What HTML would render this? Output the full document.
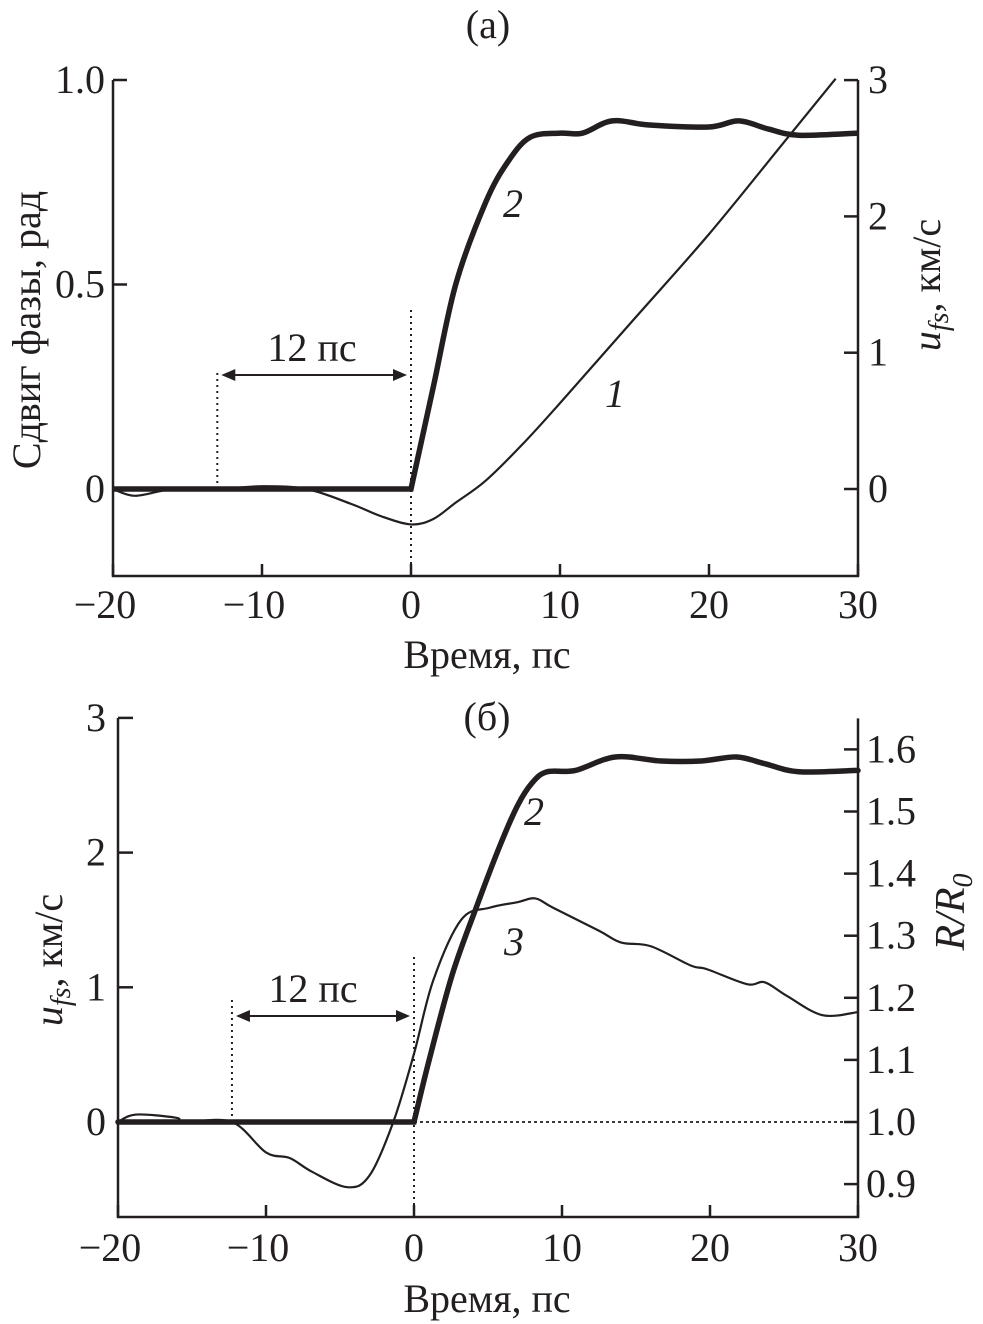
<!DOCTYPE html>
<html><head><meta charset="utf-8"><style>
body{margin:0;background:#fff}
svg{display:block}
text{font-family:"Liberation Serif",serif;fill:#231f20}
</style></head><body>
<svg id="fig" width="983" height="1324" viewBox="0 0 983 1324">
<g id="top"></g>
<g id="bot"></g>
</svg>
<script>
// ---- data ----
const xTicks=[-20,-10,0,10,20,30];
const aLeftTicks=[0,0.5,1.0];
const aLeftLabels=["0","0.5","1.0"];
const aRightTicks=[0,1,2,3];
const c1X=[-20,-18.5,-16,-13,-10,-7,-4,-2,0,1.5,3,5,7.5,10,15,20,25,28.5];
const c1Y=[0,-0.05,0,0,0.02,0,-0.11,-0.2,-0.26,-0.22,-0.1,0.06,0.33,0.63,1.25,1.87,2.54,3.01];
const c2aX=[0,1.5,3,5,6.5,8,10,11.5,13.5,16,20,22,24,26,30];
const c2aY=[0,0.25,0.5,0.7,0.8,0.86,0.87,0.87,0.9,0.89,0.885,0.9,0.88,0.865,0.87];
const bLeftTicks=[0,1,2,3];
const bRightTicks=[0.9,1.0,1.1,1.2,1.3,1.4,1.5,1.6];
const c2bX=[0,1,2.6,4.3,5.8,7,8,9,10.9,13.6,16.7,19.4,21.8,23.7,26,30];
const c2bY=[0,0.45,1.1,1.62,2.05,2.35,2.52,2.6,2.61,2.71,2.68,2.68,2.71,2.66,2.6,2.61];
const c3X=[-20,-18.8,-16.1,-15.5,-12.3,-10,-8.4,-6.9,-4.5,-3,-1.4,0,1.3,3.2,5.1,7,8.2,9.4,12.5,14,16,18.7,19.8,22.5,23.7,25.2,27.6,30];
const c3Y=[1.0,1.012,1.007,1.0,1.0,0.951,0.942,0.92,0.895,0.914,1.0,1.11,1.228,1.326,1.345,1.354,1.36,1.345,1.308,1.289,1.283,1.252,1.246,1.222,1.225,1.203,1.172,1.177];

const NS="http://www.w3.org/2000/svg";
function mk(p,t,a,txt){const e=document.createElementNS(NS,t);for(const k in a)e.setAttribute(k,a[k]);if(txt!==undefined)e.textContent=txt;p.appendChild(e);return e;}
function smooth(pts){let d="M"+pts[0][0]+","+pts[0][1];for(let i=0;i<pts.length-1;i++){const p0=pts[Math.max(i-1,0)],p1=pts[i],p2=pts[i+1],p3=pts[Math.min(i+2,pts.length-1)];const c1=[p1[0]+(p2[0]-p0[0])/6,p1[1]+(p2[1]-p0[1])/6],c2=[p2[0]-(p3[0]-p1[0])/6,p2[1]-(p3[1]-p1[1])/6];d+=" C"+c1[0]+","+c1[1]+" "+c2[0]+","+c2[1]+" "+p2[0]+","+p2[1];}return d;}
const FS=40;

// ---- panel a ----
(function(){
const g=document.getElementById('top');
const L=113,R=858,T=80,B=576;
const X=v=>L+(v+20)/50*(R-L);
const YL=v=>489-v*409;
const YR=v=>489-v*136.3;
const st={stroke:"#231f20",fill:"none"};
let e=mk(g,"path",Object.assign({d:`M${L},${T} L${L},${B} L${R},${B} L${R},${T}`,"stroke-width":2.5},st));

xTicks.forEach(v=>{mk(g,"line",{x1:X(v),x2:X(v),y1:B,y2:B-12,stroke:"#231f20","stroke-width":2.5});
 const t=mk(g,"text",{x:X(v)-(v<0?8:0),y:B+42,"text-anchor":"middle","font-size":FS},v<0?"\u2212"+(-v):String(v));
 });
aLeftTicks.forEach((v,i)=>{mk(g,"line",{x1:L,x2:L+14,y1:YL(v),y2:YL(v),stroke:"#231f20","stroke-width":2.5});
 const t=mk(g,"text",{x:L-8,y:YL(v)+13,"text-anchor":"end","font-size":FS},aLeftLabels[i]);
 });
aRightTicks.forEach(v=>{mk(g,"line",{x1:R,x2:R-14,y1:YR(v),y2:YR(v),stroke:"#231f20","stroke-width":2.5});
 const t=mk(g,"text",{x:R+10,y:YR(v)+13,"font-size":FS},String(v));
 });
mk(g,"line",{x1:X(-13),x2:X(-13),y1:YL(0),y2:372,stroke:"#231f20","stroke-width":2,"stroke-dasharray":"2,4"});
mk(g,"line",{x1:X(0),x2:X(0),y1:B,y2:310,stroke:"#231f20","stroke-width":2,"stroke-dasharray":"2,4"});
mk(g,"line",{x1:X(-13)+8,x2:X(0)-8,y1:375,y2:375,stroke:"#231f20","stroke-width":2});
mk(g,"path",{d:`M${X(-13)+4},375 l14,-6 l0,12z M${X(0)-4},375 l-14,-6 l0,12z`,fill:"#231f20"});
e=mk(g,"text",{x:312,y:361,"text-anchor":"middle","font-size":FS},"12 пс");

e=mk(g,"path",{d:smooth(c1X.map((x,i)=>[X(x),YR(c1Y[i])])),stroke:"#231f20",fill:"none","stroke-width":2.2});

e=mk(g,"path",{d:"M"+X(-20)+","+YL(0)+" L"+X(0)+","+YL(0)+" "+smooth(c2aX.map((x,i)=>[X(x),YL(c2aY[i])])).replace(/^M/,"L"),stroke:"#231f20",fill:"none","stroke-width":5.5});

mk(g,"text",{x:503,y:217,"font-size":FS,"font-style":"italic"},"2");
mk(g,"text",{x:605,y:407,"font-size":FS,"font-style":"italic"},"1");
e=mk(g,"text",{x:488,y:38,"text-anchor":"middle","font-size":FS},"(a)");

e=mk(g,"text",{x:487,y:668,"text-anchor":"middle","font-size":FS},"Время, пс");

e=mk(g,"text",{transform:"translate(40,330) rotate(-90)","text-anchor":"middle","font-size":FS},"Сдвиг фазы, рад");

e=mk(g,"text",{transform:"translate(940,285) rotate(-90)","text-anchor":"middle","font-size":FS});
e.innerHTML='<tspan font-style="italic">u</tspan><tspan font-style="italic" font-size="28" dy="8">fs</tspan><tspan dy="-8">, км/с</tspan>';

})();

// ---- panel b ----
(function(){
const g=document.getElementById('bot');
const L=118,R=858,T=718,B=1217;
const X=v=>L+(v+20)/50*(R-L);
const YL=v=>1122-v*134.7;
const YR=v=>1122-(v-1)*621;
const st={stroke:"#231f20",fill:"none"};
let e=mk(g,"path",Object.assign({d:`M${L},${T} L${L},${B} L${R},${B} L${R},${YR(1.65)}`,"stroke-width":2.5},st));

xTicks.forEach(v=>{mk(g,"line",{x1:X(v),x2:X(v),y1:B,y2:B-12,stroke:"#231f20","stroke-width":2.5});
 const t=mk(g,"text",{x:X(v)-(v<0?8:0),y:B+44,"text-anchor":"middle","font-size":FS},v<0?"\u2212"+(-v):String(v));
 });
bLeftTicks.forEach(v=>{mk(g,"line",{x1:L,x2:L+15,y1:YL(v),y2:YL(v),stroke:"#231f20","stroke-width":2.5});
 const t=mk(g,"text",{x:L-12,y:YL(v)+13,"text-anchor":"end","font-size":FS},String(v));
 });
bRightTicks.forEach(v=>{mk(g,"line",{x1:R,x2:R-14,y1:YR(v),y2:YR(v),stroke:"#231f20","stroke-width":2.5});
 const t=mk(g,"text",{x:R+8,y:YR(v)+13,"font-size":FS},v.toFixed(1));
 });
mk(g,"line",{x1:X(0),x2:R,y1:YL(0),y2:YL(0),stroke:"#231f20","stroke-width":1.8,"stroke-dasharray":"3,3"});
mk(g,"line",{x1:X(-12.3),x2:X(-12.3),y1:YL(0),y2:1000,stroke:"#231f20","stroke-width":2,"stroke-dasharray":"2,4"});
mk(g,"line",{x1:X(0),x2:X(0),y1:B,y2:955,stroke:"#231f20","stroke-width":2,"stroke-dasharray":"2,4"});
mk(g,"line",{x1:X(-12.3)+8,x2:X(0)-8,y1:1016,y2:1016,stroke:"#231f20","stroke-width":2});
mk(g,"path",{d:`M${X(-12.3)+4},1016 l14,-6 l0,12z M${X(0)-4},1016 l-14,-6 l0,12z`,fill:"#231f20"});
e=mk(g,"text",{x:313,y:1002,"text-anchor":"middle","font-size":FS},"12 пс");

e=mk(g,"path",{d:smooth(c3X.map((x,i)=>[X(x),YR(c3Y[i])])),stroke:"#231f20",fill:"none","stroke-width":2.2});

e=mk(g,"path",{d:"M"+X(-20)+","+YL(0)+" L"+X(0)+","+YL(0)+" "+smooth(c2bX.map((x,i)=>[X(x),YL(c2bY[i])])).replace(/^M/,"L"),stroke:"#231f20",fill:"none","stroke-width":5.5,"stroke-linecap":"round"});

mk(g,"text",{x:524,y:825,"font-size":FS,"font-style":"italic"},"2");
mk(g,"text",{x:504,y:955,"font-size":FS,"font-style":"italic"},"3");
e=mk(g,"text",{x:487,y:730,"text-anchor":"middle","font-size":FS},"(б)");

e=mk(g,"text",{x:487,y:1312,"text-anchor":"middle","font-size":FS},"Время, пс");

e=mk(g,"text",{transform:"translate(62,960) rotate(-90)","text-anchor":"middle","font-size":FS});
e.innerHTML='<tspan font-style="italic">u</tspan><tspan font-style="italic" font-size="28" dy="8">fs</tspan><tspan dy="-8">, км/с</tspan>';

e=mk(g,"text",{transform:"translate(964,912) rotate(-90)","text-anchor":"middle","font-size":42,"font-style":"italic"});
e.innerHTML='R/R<tspan font-size="28" dy="8">0</tspan>';

})();
</script>
</body></html>
